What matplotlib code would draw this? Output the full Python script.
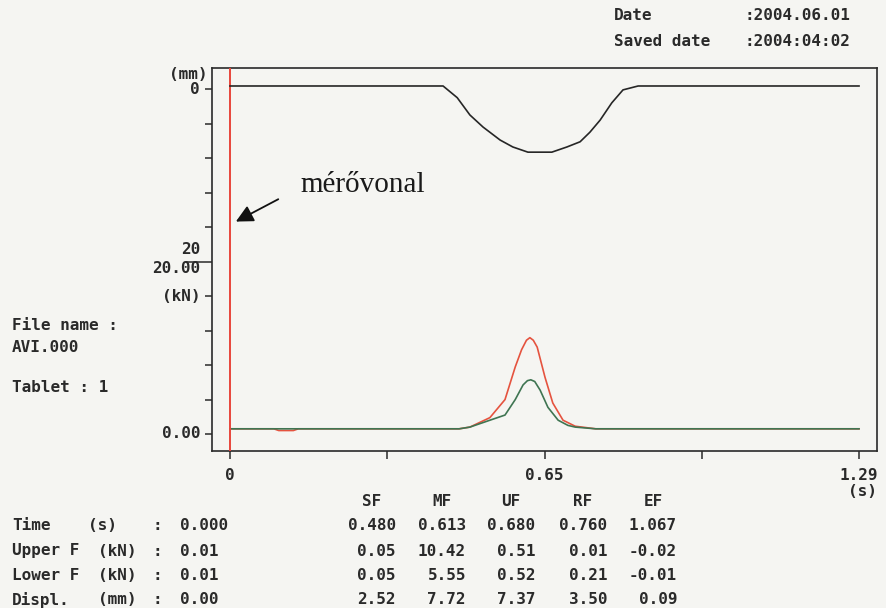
import matplotlib
matplotlib.use('Agg')
import matplotlib.pyplot as plt

# displacement curve (mm, positive downwards)
t_disp = [0, 0.437, 0.466, 0.492, 0.519, 0.554, 0.580, 0.611, 0.660, 0.691, 0.718,
          0.738, 0.759, 0.783, 0.806, 0.837, 1.29]
d_disp = [-0.35, -0.35, 1.0, 3.0, 4.4, 5.9, 6.7, 7.3, 7.3, 6.7, 6.1,
          5.0, 3.6, 1.6, 0.1, -0.35, -0.35]

# upper punch force (kN)
t_up = [0, 0.09, 0.10, 0.13, 0.14, 0.47, 0.492, 0.533, 0.564, 0.585, 0.598, 0.608,
        0.615, 0.622, 0.630, 0.646, 0.662, 0.683, 0.708, 0.75, 0.98, 1.29]
f_up = [0.6, 0.6, 0.4, 0.4, 0.6, 0.6, 0.8, 1.9, 4.0, 7.8, 9.8, 10.9,
        11.2, 10.9, 10.1, 6.6, 3.6, 1.6, 0.9, 0.6, 0.6, 0.6]

# lower punch force (kN)
t_lo = [0, 0.47, 0.492, 0.533, 0.564, 0.585, 0.601, 0.610, 0.617, 0.625, 0.636,
        0.652, 0.673, 0.693, 0.708, 0.75, 0.98, 1.29]
f_lo = [0.6, 0.6, 0.8, 1.6, 2.2, 4.0, 5.7, 6.2, 6.3, 6.1, 5.1,
        3.1, 1.6, 1.0, 0.8, 0.6, 0.6, 0.6]

x_ticks = [0, 0.3225, 0.645, 0.9675, 1.29]
x_labels = ['0', '', '0.65', '', '1.29']

col_names = ['SF', 'MF', 'UF', 'RF', 'EF']
row_names = ['Time', 'Upper F', 'Lower F', 'Displ.']
row_units = ['(s)', '(kN)', '(kN)', '(mm)']
first_col = ['0.000', '0.01', '0.01', '0.00']
table = [['0.480', '0.613', '0.680', '0.760', '1.067'],
         ['0.05', '10.42', '0.51', '0.01', '-0.02'],
         ['0.05', '5.55', '0.52', '0.21', '-0.01'],
         ['2.52', '7.72', '7.37', '3.50', '0.09']]

W, H = 886, 608
bg = '#f5f5f2'
ink = '#2a2a2a'
mono = dict(family='DejaVu Sans Mono', weight='bold', size=11.5, color=ink)

fig = plt.figure(figsize=(W / 100, H / 100), dpi=100, facecolor=bg)

def fx(px):
    return px / W

def fy(py):
    return 1 - py / H

ax = fig.add_axes([fx(212), fy(451), fx(877) - fx(212), fy(68) - fy(451)])
ax.set_facecolor(bg)
ax.set_xlim(-0.0369, 1.3269)
ax.set_ylim(-1.98, 42.56)
for s in ax.spines.values():
    s.set_color(ink)
    s.set_linewidth(1.2)

ax2 = ax.twinx()
ax2.set_ylim(41.85, -2.43)
ax2.yaxis.tick_left()
for s in ax2.spines.values():
    s.set_visible(False)

# force axis ticks
ax.set_yticks([20])
ax.set_yticks([0, 4, 8, 12, 16], minor=True)
ax.tick_params(axis='y', which='major', length=19, width=1.1, color=ink, labelleft=False)
ax.tick_params(axis='y', which='minor', length=5, width=1.1, color=ink, labelleft=False)
# displacement axis ticks
ax2.set_yticks([0, 4, 8, 12, 16])
ax2.tick_params(axis='y', length=5, width=1.1, color=ink, labelleft=False, labelright=False)

ax.set_xticks(x_ticks)
ax.set_xticklabels(x_labels, **mono)
ax.tick_params(axis='x', length=6, width=1.1, color=ink, pad=6)

ax.axvline(0, color='#e8463c', lw=1.4, zorder=5)
ax2.plot(t_disp, d_disp, color='#262626', lw=1.2)
ax.plot(t_up, f_up, color='#e5533f', lw=1.2)
ax.plot(t_lo, f_lo, color='#3f7552', lw=1.2)

# axis labels
yt = ax.get_yaxis_transform()
yt2 = ax2.get_yaxis_transform()
ax2.text(-0.035, -1.7, '(mm)', transform=yt2, ha='center', va='center', **mono)
ax2.text(-0.018, 0, '0', transform=yt2, ha='right', va='center', **mono)
ax.text(-0.018, 21.4, '20', transform=yt, ha='right', va='center', **mono)
ax.text(-0.018, 19.3, '20.00', transform=yt, ha='right', va='center', **mono)
ax.text(-0.018, 16, '(kN)', transform=yt, ha='right', va='center', **mono)
ax.text(-0.018, 0, '0.00', transform=yt, ha='right', va='center', **mono)
fig.text(fx(862), fy(492), '(s)', ha='center', va='center', **mono)

ax.annotate('', xy=(0.012, 24.7), xytext=(0.099, 27.3),
            arrowprops=dict(arrowstyle='-|>', color='#111111', lw=1.3,
                            mutation_scale=26, shrinkA=0, shrinkB=0))
ax.text(0.144, 28.9, 'mérővonal', family='Liberation Serif', size=21,
        color='#1a1a1a', ha='left', va='center')

# header and side info
fig.text(fx(614), fy(15), 'Date', ha='left', va='center', **mono)
fig.text(fx(745), fy(15), ':2004.06.01', ha='left', va='center', **mono)
fig.text(fx(614), fy(41), 'Saved date', ha='left', va='center', **mono)
fig.text(fx(745), fy(41), ':2004:04:02', ha='left', va='center', **mono)
fig.text(fx(12), fy(325), 'File name :', ha='left', va='center', **mono)
fig.text(fx(12), fy(348), 'AVI.000', ha='left', va='center', **mono)
fig.text(fx(12), fy(387), 'Tablet : 1', ha='left', va='center', **mono)

# results table
col_right = [396, 466, 535, 607, 677]
row_y = [525, 551, 576, 600]
unit_x = [88, 98, 98, 98]
for name, xr in zip(col_names, col_right):
    fig.text(fx(xr - 24), fy(502), name, ha='center', va='center', **mono)
for i, y in enumerate(row_y):
    fig.text(fx(12), fy(y), row_names[i], ha='left', va='center', **mono)
    fig.text(fx(unit_x[i]), fy(y), row_units[i], ha='left', va='center', **mono)
    fig.text(fx(153), fy(y), ':', ha='left', va='center', **mono)
    fig.text(fx(180), fy(y), first_col[i], ha='left', va='center', **mono)
    for xr, val in zip(col_right, table[i]):
        fig.text(fx(xr), fy(y), val, ha='right', va='center', **mono)

fig.savefig('out.png', dpi=100, facecolor=bg)
